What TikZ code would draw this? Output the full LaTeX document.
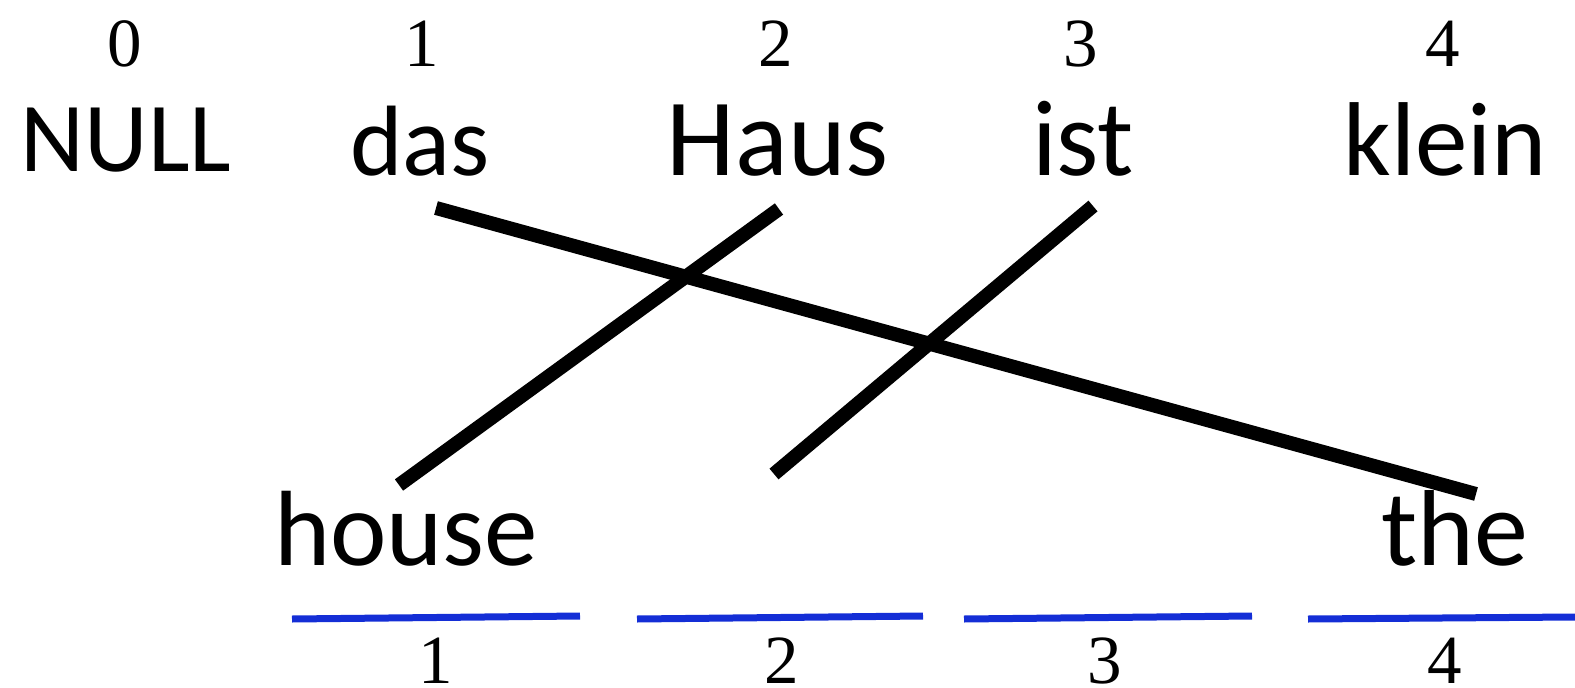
\documentclass[tikz,border=0pt]{standalone}
\usepackage{fontspec}
\setmainfont{Carlito}
\newfontfamily\numfont{Liberation Serif}
\definecolor{segblue}{RGB}{20,46,214}
\newcommand\wsize[1]{\fontsize{#1}{#1}\selectfont}
\begin{document}
\begin{tikzpicture}[x=1pt,y=-1pt,
  word/.style={inner sep=0pt,anchor=base},
  num/.style={inner sep=0pt,anchor=base,font=\numfont\fontsize{69}{69}\selectfont},
  link/.style={line width=14pt,black},
  seg/.style={line width=7pt,segblue}]
\useasboundingbox (0,0) rectangle (1575,688);
% top indices
\node[num] (n0) at (125,66) {0};
\node[num] (n1) at (422,66) {1};
\node[num] (n2) at (776,66) {2};
\node[num] (n3) at (1081,66) {3};
\node[num] (n4) at (1443,66) {4};
% source words
\node[word,font=\wsize{99}] (null) at (126,171) {NULL};
\node[word,font=\wsize{100}] (das) at (420,175) {das};
\node[word,font=\wsize{110}] (haus) at (778,175) {Haus};
\node[word,font=\wsize{108}] (ist) at (1083,175) {ist};
\node[word,font=\wsize{105}] (klein) at (1445,175) {klein};
% target words
\node[word,font=\wsize{107}] (house) at (406,565) {house};
\node[word,font=\wsize{108}] (the) at (1455,565) {the};
% link end points
\coordinate (dasE) at (436,208);
\coordinate (theE) at (1476,494);
\coordinate (hausE) at (779,209);
\coordinate (houseE) at (399,485);
\coordinate (istE) at (1093,206);
\coordinate (emptyE) at (774,474);
\draw[link] (dasE) -- (theE);
\draw[link] (hausE) -- (houseE);
\draw[link] (istE) -- (emptyE);
% target slots
\coordinate (s1a) at (292,619); \coordinate (s1b) at (580,616);
\coordinate (s2a) at (637,619); \coordinate (s2b) at (923,616);
\coordinate (s3a) at (964,619); \coordinate (s3b) at (1252,616);
\coordinate (s4a) at (1308,619); \coordinate (s4b) at (1575,617);
\draw[seg] (s1a) -- (s1b);
\draw[seg] (s2a) -- (s2b);
\draw[seg] (s3a) -- (s3b);
\draw[seg] (s4a) -- (s4b);
% bottom indices
\node[num] (m1) at (436,683) {1};
\node[num] (m2) at (782,683) {2};
\node[num] (m3) at (1105,683) {3};
\node[num] (m4) at (1445,683) {4};
\end{tikzpicture}
\end{document}
